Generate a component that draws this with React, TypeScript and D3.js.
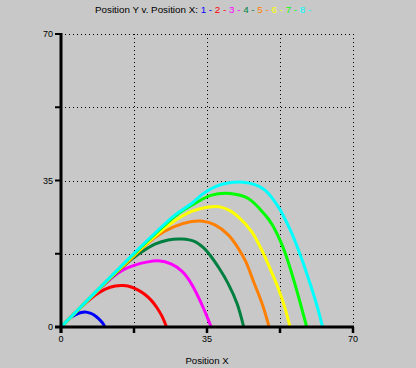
import React from "react";
import * as d3 from "d3";

// trajectories: [position X, position Y]
const run1: [number, number][] = [[0, 0], [1.2, 1.2], [2.4, 2.3], [3.4, 2.9], [4.6, 3.4], [5.8, 3.6], [7.0, 3.3], [8.0, 2.8], [9.0, 2.0], [10.0, 0.9], [10.5, 0]];
const run2: [number, number][] = [[0, 0], [3, 3], [6, 5.8], [8.5, 7.8], [10.5, 9.0], [13, 9.8], [15, 9.9], [17, 9.5], [18.5, 8.8], [20.2, 7.7], [21.7, 6.3], [23, 4.6], [24.2, 2.6], [25.3, 0]];
const run3: [number, number][] = [[0, 0], [5, 5], [9, 8.8], [12.5, 12], [15, 13.7], [17.7, 14.8], [20.5, 15.5], [23.3, 15.8], [26.5, 15.0], [28.9, 13.4], [30.3, 11.8], [31.5, 9.9], [32.8, 7.4], [34.1, 4.6], [35.2, 2.0], [36, 0]];
const run4: [number, number][] = [[0, 0], [10, 9.9], [14, 13.6], [17, 16.2], [19.3, 17.9], [22.5, 19.8], [25.7, 20.8], [28.9, 21.0], [32.1, 20.4], [34.2, 18.9], [35.7, 17.2], [38, 13.9], [40.1, 10.3], [42.2, 5.6], [43.8, 0]];
const run5: [number, number][] = [[0, 0], [12, 11.9], [16, 15.5], [19, 18.4], [22.5, 21.4], [27, 23.9], [31.3, 25.2], [33.7, 25.3], [36.9, 24.4], [40.1, 22.0], [42.5, 18.8], [44.3, 15.6], [46.1, 11.0], [48.2, 5.6], [49.9, 0]];
const run6: [number, number][] = [[0, 0], [14, 13.9], [20, 19.5], [26, 24.5], [31.3, 27.6], [35, 28.6], [38.1, 28.7], [40.5, 27.8], [42.5, 26.3], [45.7, 22.8], [48.5, 17.6], [50.3, 13.5], [52.1, 9.2], [53.7, 4.5], [54.9, 0]];
const run7: [number, number][] = [[0, 0], [16, 16], [22.5, 22.2], [28, 27], [32.1, 29.5], [36.1, 31.5], [40.5, 31.9], [44.9, 30.7], [48.9, 26.8], [50.6, 24.5], [52.2, 21.4], [53.7, 17.8], [55.8, 11.2], [57.5, 5.2], [58.9, 0]];
const run8: [number, number][] = [[0, 0], [18, 18.1], [22.5, 22.4], [27, 26.5], [31.3, 29.5], [34, 31.8], [36.9, 33.5], [40, 34.4], [43.7, 34.6], [46.5, 34], [48.9, 32.7], [52.1, 28.7], [54.9, 23.3], [57.3, 17.4], [59.9, 9.8], [61.5, 4.6], [62.7, 0]];

const runs = [run1, run2, run3, run4, run5, run6, run7, run8];
const runLabels = ["1", "2", "3", "4", "5", "6", "7", "8"];
const runColors = ["#0000ff", "#ff0000", "#ff00ff", "#008040", "#ff8000", "#ffff00", "#00ff00", "#00ffff"];

const gridTicks = [0, 17.5, 35, 52.5, 70];
const labelTicks = [0, 35, 70];

const W = 416;
const H = 368;
const FONT = "Arial, 'Liberation Sans', sans-serif";

export default function App() {
  const x = d3.scaleLinear().domain([0, 70]).range([61, 353]);
  const y = d3.scaleLinear().domain([0, 70]).range([327, 34]);

  const line = d3
    .line<[number, number]>()
    .x((d) => x(d[0]))
    .y((d) => y(d[1]))
    .curve(d3.curveCatmullRom.alpha(0.5));

  return (
    <svg
      width={W}
      height={H}
      style={{ position: "absolute", left: 0, top: 0, background: "#c8c8c8" }}
      fontFamily={FONT}
    >
      {/* title */}
      <text x={95} y={13} fontSize={9.8} fill="#000">
        <tspan>Position Y v. Position X: </tspan>
        {runLabels.map((l, i) => (
          <tspan key={l} fill={runColors[i]}>
            {l} -{i < runLabels.length - 1 ? " " : ""}
          </tspan>
        ))}
      </text>

      {/* dotted grid */}
      <g stroke="#000" strokeWidth={1} strokeDasharray="1 3">
        {gridTicks.slice(1).map((t) => (
          <line key={"gx" + t} x1={Math.round(x(t)) + 0.5} x2={Math.round(x(t)) + 0.5} y1={y(70)} y2={y(0)} />
        ))}
        {gridTicks.slice(1).map((t) => (
          <line key={"gy" + t} x1={x(0)} x2={x(70)} y1={Math.round(y(t)) + 0.5} y2={Math.round(y(t)) + 0.5} />
        ))}
      </g>

      {/* trajectories */}
      {runs.map((r, i) => (
        <path key={i} d={line(r) || ""} fill="none" stroke={runColors[i]} strokeWidth={3} />
      ))}

      {/* axes */}
      <g stroke="#000">
        <line x1={x(0)} x2={x(0)} y1={y(70) - 1} y2={y(0) + 6} strokeWidth={3} />
        <line x1={x(0) - 6} x2={x(70) + 1} y1={y(0)} y2={y(0)} strokeWidth={3} />
        {gridTicks.map((t) => (
          <line key={"tx" + t} x1={x(t)} x2={x(t)} y1={y(0)} y2={y(0) + 6} strokeWidth={2.5} />
        ))}
        {gridTicks.map((t) => (
          <line key={"ty" + t} x1={x(0) - 6} x2={x(0)} y1={y(t)} y2={y(t)} strokeWidth={2} />
        ))}
      </g>

      {/* tick labels */}
      <g fontSize={9} fill="#000">
        {labelTicks.map((t) => (
          <text key={"lx" + t} x={x(t)} y={342} textAnchor="middle">
            {t}
          </text>
        ))}
        {labelTicks.map((t) => (
          <text key={"ly" + t} x={53} y={y(t) + 3.3} textAnchor="end">
            {t}
          </text>
        ))}
      </g>

      <text x={(x(0) + x(70)) / 2} y={364} textAnchor="middle" fontSize={9.6} fill="#000">
        Position X
      </text>
    </svg>
  );
}
